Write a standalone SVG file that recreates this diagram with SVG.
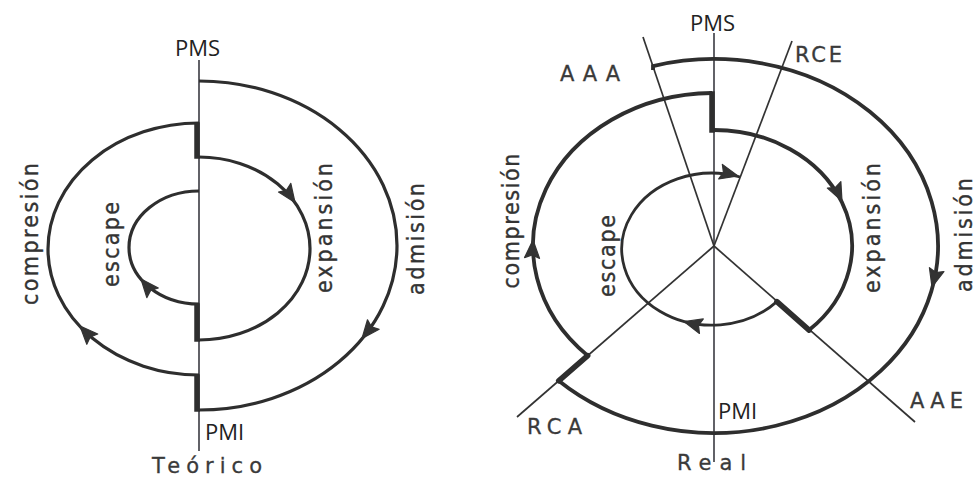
<svg xmlns="http://www.w3.org/2000/svg" xmlns:xlink="http://www.w3.org/1999/xlink" width="976" height="479" viewBox="0 0 976 479">
<style>
.bg{fill:#ffffff}
.arc{fill:none;stroke:#2e2e2e;stroke-width:3.2;stroke-linejoin:miter}
.arcR{fill:none;stroke:#2e2e2e;stroke-width:3.8;stroke-linejoin:miter}
.thin{fill:none;stroke:#2e2e2e;stroke-width:2.8}
.thick{fill:none;stroke:#2e2e2e;stroke-width:5.5;stroke-linecap:square}
.axis{fill:none;stroke:#3a3a42;stroke-width:1.6}
.ray{fill:none;stroke:#333333;stroke-width:1.7}
.ah{fill:#333333;stroke:#333333;stroke-width:1.2;stroke-linejoin:round}
.lbl{font-family:"DejaVu Sans Condensed","DejaVu Sans",sans-serif;font-size:23px;fill:#333333;stroke:#333333;stroke-width:0.35;text-anchor:middle}
.tag{font-family:"DejaVu Sans",sans-serif;font-size:21px;fill:#3a3a3a;stroke:#3a3a3a;stroke-width:0.3}
.pm{font-family:"Open Sans","Liberation Sans",sans-serif;font-size:22px;fill:#222222}
</style>
<defs>
<path id="ah" d="M0,0 L-18,-7.5 L-15,0 L-18,7.5 Z"/>
</defs>
<rect class="bg" x="0" y="0" width="976" height="479"/>

<g id="connectors">
<!-- LEFT (Teórico) -->
<line class="axis" x1="199" y1="60" x2="199" y2="451"/>
<path class="arc" d="M199 81 A198 164.5 0 0 1 397 245.5 A198 164.5 0 0 1 199 410"/>
<path class="arc" d="M199 375 A151 126 0 0 1 48 249 A151 126 0 0 1 199 123"/>
<path class="arc" d="M199 157 A111 91.5 0 0 1 310 248.5 A111 91.5 0 0 1 199 340"/>
<path class="arc" d="M199 304 A70 56.5 0 0 1 129 247.5 A70 56.5 0 0 1 199 191"/>
<line class="thick" x1="197" y1="125" x2="197" y2="156"/>
<line class="thick" x1="197" y1="306" x2="197" y2="339"/>
<line class="thick" x1="197" y1="377" x2="197" y2="409"/>
<use xlink:href="#ah" class="ah" transform="translate(295,202.5) rotate(55)"/>
<use xlink:href="#ah" class="ah" transform="translate(362,338.5) rotate(129)"/>
<use xlink:href="#ah" class="ah" transform="translate(80,326) rotate(-133)"/>
<use xlink:href="#ah" class="ah" transform="translate(141,279) rotate(-130)"/>

<!-- RIGHT (Real) -->
<line class="axis" x1="714" y1="33" x2="714" y2="462"/>
<line class="ray" x1="643" y1="37" x2="714" y2="246"/>
<line class="ray" x1="792" y1="41" x2="714" y2="246"/>
<line class="ray" x1="714" y1="246" x2="517" y2="417"/>
<line class="ray" x1="714" y1="246" x2="915" y2="422"/>
<path class="arcR" d="M653 70 L653 66.1 A224 187 0 1 1 558.7 380.8"/>
<path class="arcR" d="M587.7 355.6 A181 153 0 0 1 712 93"/>
<path class="arcR" d="M712 130 A138 116 0 0 1 809.1 330.1"/>
<path class="thin" d="M776.9 301.6 A90 76 0 1 1 740.1 177"/>
<line class="thick" x1="587.7" y1="355.6" x2="558.7" y2="380.8" style="stroke-linecap:round"/>
<line class="thick" x1="712" y1="94" x2="712" y2="130"/>
<line class="thick" x1="809.1" y1="330.1" x2="776.9" y2="301.6" style="stroke-linecap:round"/>
<use xlink:href="#ah" class="ah" transform="translate(738,176) rotate(14)"/>
<use xlink:href="#ah" class="ah" transform="translate(684,321.5) rotate(195)"/>
<use xlink:href="#ah" class="ah" transform="translate(842,201) rotate(64)"/>
<use xlink:href="#ah" class="ah" transform="translate(932,287) rotate(105)"/>
<use xlink:href="#ah" class="ah" transform="translate(533,240) rotate(-87)"/>
</g>

<g id="left-labels">
<text class="pm" x="197.5" y="56" text-anchor="middle">PMS</text>
<text class="pm" x="205" y="440">PMI</text>
<text class="tag" x="152" y="473" font-size="22" textLength="110" lengthAdjust="spacing">Teórico</text>
<text class="lbl" transform="translate(38,234) rotate(-90)" textLength="142" lengthAdjust="spacing">compresión</text>
<text class="lbl" transform="translate(119,244.5) rotate(-90)" textLength="85" lengthAdjust="spacing">escape</text>
<text class="lbl" transform="translate(332,228) rotate(-90)" textLength="130" lengthAdjust="spacing">expansión</text>
<text class="lbl" transform="translate(424,239) rotate(-90)" textLength="112" lengthAdjust="spacing">admisión</text>
</g>

<g id="right-labels">
<text class="pm" x="712.5" y="31" text-anchor="middle">PMS</text>
<text class="pm" x="718" y="419">PMI</text>
<text class="tag" x="677" y="470" font-size="22" textLength="69" lengthAdjust="spacing">Real</text>
<text class="tag" x="560" y="81" textLength="60" lengthAdjust="spacing">AAA</text>
<text class="tag" x="795" y="62" textLength="47" lengthAdjust="spacing">RCE</text>
<text class="tag" x="527" y="434" textLength="55" lengthAdjust="spacing">RCA</text>
<text class="tag" x="910" y="408" textLength="53" lengthAdjust="spacing">AAE</text>
<text class="lbl" transform="translate(519,221) rotate(-90)" textLength="135" lengthAdjust="spacing">compresión</text>
<text class="lbl" transform="translate(615,256) rotate(-90)" textLength="82" lengthAdjust="spacing">escape</text>
<text class="lbl" transform="translate(880,228) rotate(-90)" textLength="130" lengthAdjust="spacing">expansión</text>
<text class="lbl" transform="translate(972,235) rotate(-90)" textLength="114" lengthAdjust="spacing">admisión</text>
</g>
</svg>
